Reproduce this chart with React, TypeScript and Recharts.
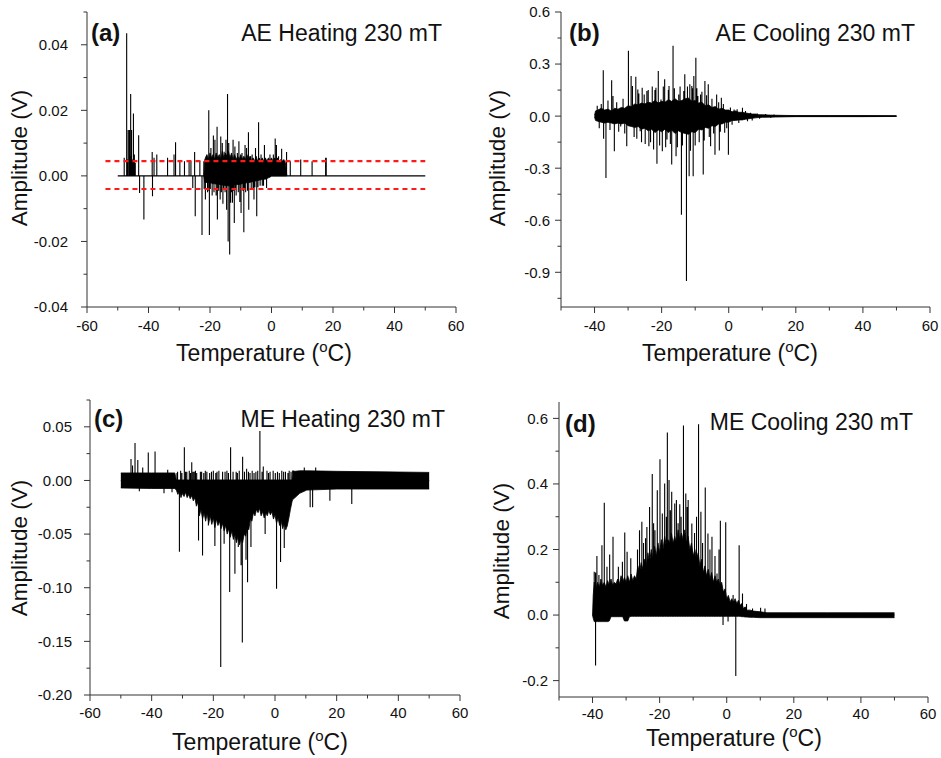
import { Area, ComposedChart, Line, XAxis, YAxis } from 'recharts'

const FONT = '"Liberation Sans", Arial, Helvetica, sans-serif'
const AXIS = '#333'

// ---- axis ticks ----
const xTicksWide = [-60, -50, -40, -30, -20, -10, 0, 10, 20, 30, 40, 50, 60]
const xMajorWide = [-60, -40, -20, 0, 20, 40, 60]
const xTicksNarrow = [-50, -40, -30, -20, -10, 0, 10, 20, 30, 40, 50, 60]
const xMajorNarrow = [-40, -20, 0, 20, 40, 60]

const aYTicks = [-0.04, -0.03, -0.02, -0.01, 0, 0.01, 0.02, 0.03, 0.04, 0.05]
const aYMajor = [-0.04, -0.02, 0, 0.02, 0.04]
const bYTicks = [-1.05, -0.9, -0.75, -0.6, -0.45, -0.3, -0.15, 0, 0.15, 0.3, 0.45, 0.6]
const bYMajor = [-0.9, -0.6, -0.3, 0, 0.3, 0.6]
const cYTicks = [-0.2, -0.175, -0.15, -0.125, -0.1, -0.075, -0.05, -0.025, 0, 0.025, 0.05, 0.075]
const cYMajor = [-0.2, -0.15, -0.1, -0.05, 0, 0.05]
const dYTicks = [-0.2, -0.1, 0, 0.1, 0.2, 0.3, 0.4, 0.5, 0.6]
const dYMajor = [-0.2, 0, 0.2, 0.4, 0.6]

// ---- (a) AE heating ----
// [temperature, amplitude] for single bursts
const aSpikes: [number, number][] = [
  [-47.9, 0.0055], [-47.1, 0.0435], [-46.8, 0.005], [-46.6, 0.014], [-46.2, 0.014],
  [-46.0, 0.006], [-45.8, 0.025], [-45.5, 0.014], [-45.2, 0.005], [-44.9, 0.019],
  [-44.6, 0.0065], [-44.3, 0.004], [-43.2, 0.0124], [-42.9, -0.0052], [-41.5, -0.0133],
  [-38.8, 0.0073], [-38.7, -0.0062], [-38.2, 0.0055], [-37.3, 0.0065], [-33.8, 0.0055],
  [-31.7, 0.0065], [-31.2, 0.0103], [-29.8, 0.0045], [-28.3, 0.0045], [-26.8, 0.0045],
  [-26.2, 0.0045], [-25.6, -0.0037], [-25.0, 0.0073], [-24.8, -0.0123], [-23.3, 0.0045],
  [-22.6, -0.018], [-22.0, 0.0045], [-21.9, -0.004], [-21.5, -0.0072], [-21.2, 0.006],
  [-20.8, -0.005], [-20.6, -0.0045], [-20.4, 0.02], [-20.2, -0.018], [-19.9, -0.004],
  [-19.7, 0.0085], [-19.3, -0.006], [-18.9, 0.0123], [-18.7, -0.005], [-18.4, 0.011],
  [-18.0, -0.006], [-17.7, 0.015], [-17.6, -0.0133], [-17.2, -0.0045], [-16.7, -0.0072],
  [-16.5, 0.012], [-16.3, -0.005], [-16.0, 0.01], [-15.8, -0.0085], [-15.6, -0.004],
  [-15.4, 0.0074], [-15.1, -0.005], [-14.8, 0.011], [-14.6, -0.0103], [-14.3, 0.025],
  [-14.1, -0.02], [-13.9, 0.01], [-13.6, -0.024], [-13.3, -0.0082], [-13.0, -0.005],
  [-12.7, -0.0082], [-12.5, 0.011], [-12.4, -0.0045], [-12.1, -0.0144], [-11.9, 0.009],
  [-11.7, -0.004], [-11.5, -0.006], [-11.1, 0.007], [-10.8, -0.005], [-10.6, 0.0106],
  [-10.3, -0.008], [-9.9, -0.0113], [-9.6, 0.007], [-9.3, -0.0045], [-9.0, -0.0172],
  [-8.8, -0.004], [-8.6, 0.0094], [-8.4, -0.005], [-8.1, 0.0085], [-7.8, -0.0045],
  [-7.5, 0.0133], [-7.4, -0.0103], [-6.8, 0.006], [-6.6, -0.004], [-6.3, 0.0065],
  [-6.0, -0.004], [-5.7, -0.0072], [-5.4, -0.0035], [-5.2, 0.0085], [-4.8, -0.0123],
  [-4.4, -0.0035], [-4.2, 0.0164], [-3.7, -0.003], [-3.4, 0.0065], [-3.0, -0.003],
  [-2.6, -0.003], [-2.3, 0.0094], [-1.6, -0.0037], [-0.5, 0.0065], [0.6, 0.0065],
  [1.2, 0.0114], [1.6, 0.0094], [2.3, 0.006], [3.3, 0.0083], [3.8, 0.0045],
  [4.3, 0.0045], [4.9, 0.0073], [6.1, 0.0045], [9.5, 0.005], [13.2, 0.0045],
  [17.6, 0.0055], [17.8, 0.0055],
]
// [temperature, low, high] of the dense burst region
const aBand: [number, number, number][] = [
  [-22, 0, 0], [-21.7, -0.002, 0.005], [-21, -0.002, 0.0065], [-20.5, -0.002, 0.005],
  [-20, -0.0022, 0.007], [-19.5, -0.0022, 0.0055], [-19, -0.0024, 0.0065], [-18.5, -0.0024, 0.005],
  [-18, -0.0025, 0.007], [-17.5, -0.0025, 0.0055], [-17, -0.0026, 0.0065], [-16.5, -0.0026, 0.005],
  [-16, -0.0028, 0.0075], [-15.5, -0.0028, 0.0055], [-15, -0.003, 0.007], [-14.5, -0.003, 0.006],
  [-14, -0.003, 0.0075], [-13.5, -0.003, 0.0055], [-13, -0.0028, 0.007], [-12.5, -0.0028, 0.005],
  [-12, -0.0027, 0.0065], [-11.5, -0.0027, 0.005], [-11, -0.0026, 0.006], [-10.5, -0.0026, 0.005],
  [-10, -0.0025, 0.0065], [-9.5, -0.0024, 0.005], [-9, -0.0023, 0.006], [-8.5, -0.0022, 0.005],
  [-8, -0.0021, 0.0065], [-7.5, -0.002, 0.005], [-7, -0.002, 0.006], [-6.5, -0.0018, 0.0045],
  [-6, -0.0018, 0.0055], [-5.5, -0.0016, 0.0045], [-5, -0.0015, 0.006], [-4.5, -0.0014, 0.0045],
  [-4, -0.0013, 0.0055], [-3.5, -0.0012, 0.0045], [-3, -0.0011, 0.0055], [-2.5, -0.001, 0.0045],
  [-2, -0.001, 0.0055], [-1.5, -0.0008, 0.0045], [-1, -0.0006, 0.0055], [-0.5, -0.0004, 0.0045],
  [0, 0, 0.0055], [0.5, 0, 0.0045], [1, 0, 0.0055], [1.5, 0, 0.005], [2, 0, 0.0055],
  [2.5, 0, 0.0045], [3, 0, 0.005], [3.5, 0, 0.0045], [4, 0, 0.005], [4.5, 0, 0.004], [5, 0, 0],
]
const aSpan = [-50, 50]
const aThresholds = [0.0045, -0.004]
const aThresholdSpan = [-54, 50]

// ---- (b) AE cooling ----
const bSpikes: [number, number][] = [
  [-39.2, 0.06], [-38.6, -0.07], [-38.0, 0.07], [-37.4, 0.264], [-37.3, -0.131],
  [-36.6, -0.356], [-36.0, 0.09], [-35.4, -0.08], [-34.9, 0.206], [-34.5, 0.116],
  [-34.1, -0.202], [-33.4, 0.08], [-32.8, -0.09], [-32.2, -0.06], [-31.5, 0.1],
  [-31.0, -0.1], [-30.4, -0.173], [-29.9, 0.376], [-29.1, 0.231], [-28.7, 0.173],
  [-28.2, -0.12], [-27.7, 0.227], [-27.4, -0.13], [-27.1, 0.154], [-26.8, 0.13],
  [-26.4, -0.087], [-26.0, -0.15], [-25.8, 0.164], [-25.2, 0.125], [-24.9, -0.16],
  [-24.4, 0.145], [-24.0, 0.15], [-23.8, -0.173], [-23.3, -0.15], [-22.8, 0.17],
  [-22.4, -0.193], [-22.0, 0.15], [-21.7, 0.164], [-21.4, -0.274], [-21.0, 0.26],
  [-20.6, -0.17], [-20.2, 0.096], [-19.8, -0.202], [-19.5, 0.17], [-19.1, 0.212],
  [-18.8, -0.18], [-18.4, -0.135], [-18.0, 0.15], [-17.8, 0.173], [-17.4, -0.16],
  [-17.0, -0.279], [-16.6, 0.405], [-16.2, 0.16], [-15.7, -0.231], [-15.3, -0.18],
  [-14.9, 0.125], [-14.5, 0.17], [-14.1, -0.568], [-13.8, -0.17], [-13.4, 0.145],
  [-13.1, 0.241], [-12.6, -0.95], [-12.3, 0.17], [-11.8, -0.347], [-11.6, 0.183],
  [-11.4, -0.2], [-11.0, 0.173], [-10.8, 0.16], [-10.6, -0.347], [-10.4, 0.231],
  [-10.0, -0.17], [-9.8, 0.337], [-9.5, 0.16], [-9.2, 0.116], [-8.8, -0.15],
  [-8.4, 0.125], [-8.0, 0.14], [-7.6, -0.337], [-7.3, -0.14], [-7.1, 0.202],
  [-6.6, 0.12], [-6.1, 0.183], [-5.8, -0.12], [-5.4, -0.173], [-5.0, 0.1],
  [-4.5, -0.1], [-4.1, -0.222], [-3.6, 0.125], [-3.0, 0.08], [-2.8, -0.198],
  [-2.5, -0.09], [-2.2, 0.106], [-1.6, 0.07], [-1.2, -0.096], [-0.6, -0.07],
  [-0.1, -0.222], [0.5, 0.05], [1.0, -0.05], [1.6, 0.038], [2.5, 0.04],
  [3.0, -0.04], [4.1, 0.048], [5.0, 0.03], [5.6, -0.03], [6.5, 0.02],
  [7.0, -0.025], [8.5, 0.015], [9.2, -0.015], [11.0, 0.012], [12.5, -0.01],
  [13.5, 0.01],
]
const bBand: [number, number, number][] = [
  [-40, -0.005, 0.005], [-39.7, -0.025, 0.03], [-39, -0.03, 0.035], [-38, -0.035, 0.045],
  [-37, -0.04, 0.035], [-36, -0.035, 0.04], [-35, -0.04, 0.03], [-34, -0.045, 0.045],
  [-33, -0.04, 0.04], [-32, -0.045, 0.05], [-31, -0.04, 0.045], [-30, -0.055, 0.06],
  [-29, -0.06, 0.055], [-28, -0.065, 0.07], [-27, -0.06, 0.065], [-26, -0.075, 0.075],
  [-25, -0.07, 0.07], [-24, -0.085, 0.08], [-23, -0.075, 0.075], [-22, -0.095, 0.09],
  [-21, -0.08, 0.075], [-20, -0.09, 0.085], [-19, -0.075, 0.08], [-18, -0.095, 0.095],
  [-17, -0.08, 0.085], [-16, -0.1, 0.1], [-15, -0.085, 0.085], [-14, -0.095, 0.09],
  [-13, -0.1, 0.1], [-12, -0.105, 0.105], [-11, -0.09, 0.085], [-10, -0.095, 0.09],
  [-9, -0.075, 0.075], [-8, -0.08, 0.08], [-7, -0.065, 0.06], [-6, -0.07, 0.065],
  [-5, -0.055, 0.05], [-4, -0.06, 0.055], [-3, -0.045, 0.04], [-2, -0.045, 0.045],
  [-1, -0.035, 0.035], [0, -0.035, 0.035], [1, -0.025, 0.025], [2, -0.025, 0.03],
  [3, -0.022, 0.022], [4, -0.022, 0.022], [5, -0.018, 0.018], [6, -0.015, 0.015],
  [7, -0.012, 0.012], [8, -0.01, 0.012], [9, -0.008, 0.008], [10, -0.007, 0.008],
  [12, -0.006, 0.006], [14, -0.005, 0.005], [17, -0.004, 0.004], [20, -0.003, 0.003],
  [30, -0.003, 0.003], [40, -0.003, 0.003], [50, -0.002, 0.002],
]
const bSpan = [-40, 50]

// ---- (c) ME heating ----
const cSpikes: [number, number][] = [
  [-46.7, 0.02], [-46.2, 0.014], [-45.4, 0.035], [-44.5, 0.019], [-44.0, -0.01],
  [-42.9, 0.012], [-41.1, 0.026], [-38.9, 0.027], [-36.0, -0.012], [-34.8, 0.01],
  [-33.4, -0.011], [-31.8, 0.007], [-31.6, 0.008], [-31.0, -0.0665], [-30.6, 0.009],
  [-30.2, 0.007], [-29.4, 0.031], [-29.0, 0.008], [-28.6, 0.008], [-27.8, 0.009],
  [-27.4, 0.007], [-27.0, 0.017], [-26.6, 0.008], [-26.2, 0.008], [-25.8, 0.009],
  [-25.4, 0.007], [-24.8, -0.056], [-24.2, 0.008], [-23.8, 0.008], [-23.5, -0.07],
  [-23.1, 0.007], [-22.6, 0.009], [-22.1, 0.008], [-21.6, -0.042], [-21.2, 0.007],
  [-20.6, 0.008], [-20.0, 0.009], [-19.5, -0.061], [-19.2, 0.007], [-18.8, 0.008],
  [-18.2, 0.009], [-17.6, -0.174], [-17.0, 0.008], [-16.5, -0.059], [-16.2, 0.008],
  [-15.6, 0.009], [-15.1, 0.007], [-14.7, -0.104], [-14.4, 0.031], [-13.6, 0.008],
  [-13.0, -0.087], [-12.6, 0.008], [-12.2, 0.007], [-11.9, -0.062], [-11.6, 0.009],
  [-11.0, -0.079], [-10.6, -0.151], [-10.5, 0.022], [-9.9, 0.008], [-9.4, -0.074],
  [-9.2, 0.011], [-8.9, -0.095], [-8.6, 0.008], [-8.1, 0.007], [-7.8, -0.062],
  [-7.4, 0.009], [-6.8, 0.007], [-6.2, 0.008], [-5.6, 0.009], [-4.9, 0.046],
  [-4.2, 0.008], [-3.8, 0.013], [-3.2, -0.05], [-2.6, 0.009], [-2.1, 0.007],
  [-1.6, 0.008], [-0.6, 0.009], [0.1, 0.007], [0.5, -0.101], [0.8, 0.008],
  [1.4, 0.007], [1.8, -0.076], [2.2, 0.009], [2.8, 0.008], [3.0, -0.063],
  [3.4, 0.008], [3.8, -0.043], [4.2, 0.007], [4.6, 0.009], [5.2, 0.008],
  [9.5, 0.012], [11.4, -0.025], [12.2, -0.025], [13.2, 0.012], [17.8, -0.019],
  [24.9, -0.022],
]
const cBand: [number, number, number][] = [
  [-50, -0.007, 0.007], [-40, -0.0075, 0.007], [-32.5, -0.0075, 0.007], [-32, -0.009, 0.0005],
  [-31.5, -0.013, 0.0005], [-31, -0.01, 0.0005], [-30.5, -0.016, 0.0005], [-30, -0.012, 0.0005],
  [-29.5, -0.015, 0.0005], [-29, -0.011, 0.0005], [-28.5, -0.016, 0.0005], [-28, -0.013, 0.0005],
  [-27.5, -0.017, 0.0005], [-27, -0.014, 0.0005], [-26.5, -0.019, 0.0005], [-26, -0.016, 0.0005],
  [-25.5, -0.024, 0.0005], [-25, -0.02, 0.0005], [-24.5, -0.033, 0.0005], [-24, -0.027, 0.0005],
  [-23.5, -0.036, 0.0005], [-23, -0.03, 0.0005], [-22.5, -0.038, 0.0005], [-22, -0.031, 0.0005],
  [-21.5, -0.04, 0.0005], [-21, -0.033, 0.0005], [-20.5, -0.041, 0.0005], [-20, -0.035, 0.0005],
  [-19.5, -0.044, 0.0005], [-19, -0.036, 0.0005], [-18.5, -0.042, 0.0005], [-18, -0.038, 0.0005],
  [-17.5, -0.045, 0.0005], [-17, -0.04, 0.0005], [-16.5, -0.047, 0.0005], [-16, -0.042, 0.0005],
  [-15.5, -0.05, 0.0005], [-15, -0.045, 0.0005], [-14.5, -0.053, 0.0005], [-14, -0.047, 0.0005],
  [-13.5, -0.055, 0.0005], [-13, -0.05, 0.0005], [-12.5, -0.058, 0.0005], [-12, -0.052, 0.0005],
  [-11.5, -0.06, 0.0005], [-11, -0.054, 0.0005], [-10.5, -0.058, 0.0005], [-10, -0.05, 0.0005],
  [-9.5, -0.052, 0.0005], [-9, -0.044, 0.0005], [-8.5, -0.046, 0.0005], [-8, -0.036, 0.0005],
  [-7.5, -0.038, 0.0005], [-7, -0.03, 0.0005], [-6.5, -0.033, 0.0005], [-6, -0.027, 0.0005],
  [-5.5, -0.03, 0.0005], [-5, -0.026, 0.0005], [-4.5, -0.033, 0.0005], [-4, -0.029, 0.0005],
  [-3.5, -0.035, 0.0005], [-3, -0.03, 0.0005], [-2.5, -0.033, 0.0005], [-2, -0.028, 0.0005],
  [-1.5, -0.032, 0.0005], [-1, -0.029, 0.0005], [-0.5, -0.036, 0.0005], [0, -0.032, 0.0005],
  [0.5, -0.04, 0.0005], [1, -0.035, 0.0005], [1.5, -0.042, 0.0005], [2, -0.038, 0.0005],
  [2.5, -0.045, 0.0005], [3, -0.04, 0.0005], [3.5, -0.046, 0.0005], [4, -0.042, 0.0005],
  [4.5, -0.035, 0.0005], [5, -0.027, 0.0005], [5.5, -0.02, 0.0005], [5.7, -0.018, 0.009],
  [6.5, -0.016, 0.0085], [8, -0.012, 0.009], [10.3, -0.009, 0.009], [20, -0.008, 0.0085],
  [35, -0.008, 0.008], [50, -0.008, 0.0075],
]
const cSpan = [-50, 50]

// ---- (d) ME cooling ----
const dSpikes: [number, number][] = [
  [-39.5, 0.132], [-39.1, 0.13], [-39.1, -0.154], [-38.7, 0.18], [-38.1, 0.122],
  [-37.2, 0.213], [-36.5, 0.343], [-35.7, 0.147], [-34.9, 0.185], [-33.9, 0.239],
  [-32.3, 0.147], [-31.1, 0.163], [-30.4, 0.252], [-29.7, 0.193], [-28.6, 0.173],
  [-27.5, 0.117], [-26.6, 0.2], [-26.0, 0.259], [-25.3, 0.285], [-24.8, 0.22],
  [-24.2, 0.234], [-23.8, 0.269], [-23.0, 0.33], [-22.2, 0.43], [-21.8, 0.28],
  [-21.4, 0.259], [-20.7, 0.381], [-19.9, 0.475], [-19.2, 0.31], [-18.5, 0.401],
  [-18.0, 0.3], [-17.7, 0.557], [-17.2, 0.412], [-16.8, 0.32], [-16.4, 0.376],
  [-15.5, 0.34], [-15.0, 0.351], [-14.5, 0.28], [-14.0, 0.338], [-13.6, 0.3],
  [-12.9, 0.578], [-12.2, 0.371], [-11.8, 0.33], [-11.5, 0.351], [-10.4, 0.279],
  [-9.6, 0.25], [-9.0, 0.3], [-8.4, 0.582], [-7.7, 0.315], [-7.2, 0.22],
  [-6.4, 0.389], [-5.6, 0.249], [-5.0, 0.2], [-4.4, 0.239], [-3.5, 0.18],
  [-2.9, 0.127], [-2.3, 0.2], [-1.9, 0.288], [-1.1, -0.03], [-0.3, 0.283],
  [0.4, -0.02], [1.9, 0.061], [2.7, -0.186], [3.7, 0.213], [4.7, 0.066],
  [5.9, 0.034], [7.7, 0.02], [10.1, 0.022], [11.4, 0.02],
]
const dBand: [number, number, number][] = [
  [-40, 0, 0], [-39.8, -0.01, 0.06], [-39.5, -0.02, 0.1], [-39, -0.02, 0.08],
  [-38.5, -0.02, 0.1], [-38, -0.02, 0.085], [-37.5, -0.02, 0.11], [-37, -0.02, 0.09],
  [-36.5, -0.02, 0.1], [-36, -0.02, 0.085], [-35.5, -0.02, 0.105], [-35, -0.018, 0.09],
  [-34.5, -0.005, 0.11], [-34, -0.005, 0.09], [-33.5, -0.005, 0.1], [-33, -0.005, 0.095],
  [-32.5, -0.005, 0.11], [-32, -0.005, 0.095], [-31.5, -0.005, 0.12], [-31, -0.005, 0.1],
  [-30.5, -0.018, 0.115], [-30, -0.018, 0.1], [-29.5, -0.018, 0.12], [-29, -0.005, 0.1],
  [-28.5, -0.004, 0.125], [-28, -0.004, 0.105], [-27.5, -0.004, 0.12], [-27, -0.004, 0.11],
  [-26.5, -0.004, 0.15], [-26, -0.004, 0.13], [-25.5, -0.004, 0.16], [-25, -0.004, 0.14],
  [-24.5, -0.004, 0.17], [-24, -0.004, 0.15], [-23.5, -0.004, 0.19], [-23, -0.004, 0.16],
  [-22.5, -0.004, 0.2], [-22, -0.004, 0.17], [-21.5, -0.004, 0.21], [-21, -0.004, 0.18],
  [-20.5, -0.004, 0.22], [-20, -0.004, 0.19], [-19.5, -0.004, 0.23], [-19, -0.004, 0.2],
  [-18.5, -0.004, 0.24], [-18, -0.004, 0.21], [-17.5, -0.004, 0.23], [-17, -0.004, 0.22],
  [-16.5, -0.004, 0.25], [-16, -0.004, 0.22], [-15.5, -0.004, 0.24], [-15, -0.004, 0.22],
  [-14.5, -0.004, 0.26], [-14, -0.004, 0.23], [-13.5, -0.004, 0.25], [-13, -0.004, 0.23],
  [-12.5, -0.004, 0.26], [-12, -0.004, 0.22], [-11.5, -0.004, 0.24], [-11, -0.004, 0.2],
  [-10.5, -0.004, 0.22], [-10, -0.004, 0.18], [-9.5, -0.004, 0.2], [-9, -0.004, 0.17],
  [-8.5, -0.004, 0.19], [-8, -0.004, 0.15], [-7.5, -0.004, 0.17], [-7, -0.004, 0.13],
  [-6.5, -0.004, 0.15], [-6, -0.004, 0.12], [-5.5, -0.004, 0.14], [-5, -0.004, 0.11],
  [-4.5, -0.004, 0.13], [-4, -0.004, 0.1], [-3.5, -0.004, 0.12], [-3, -0.004, 0.1],
  [-2.5, -0.004, 0.11], [-2, -0.004, 0.09], [-1.5, -0.004, 0.1], [-1, -0.004, 0.07],
  [-0.5, -0.004, 0.08], [0, -0.004, 0.05], [0.5, -0.004, 0.06], [1, -0.004, 0.04],
  [1.5, -0.004, 0.05], [2, -0.004, 0.04], [2.5, -0.004, 0.05], [3, -0.004, 0.035],
  [3.5, -0.004, 0.045], [4, -0.004, 0.03], [4.5, -0.005, 0.035], [5, -0.005, 0.02],
  [5.5, -0.006, 0.025], [6, -0.006, 0.015], [7, -0.007, 0.015], [8, -0.007, 0.012],
  [10, -0.008, 0.01], [12, -0.008, 0.007], [20, -0.008, 0.007], [30, -0.008, 0.007],
  [40, -0.008, 0.007], [50, -0.008, 0.007],
]
const dSpan = [-40, 50]

// bursts drawn as vertical strokes on a zero baseline
function spikeSeries(spikes: [number, number][], span: number[]) {
  const pts = [{ t: span[0], v: 0 }]
  ;[...spikes]
    .sort((p, q) => p[0] - q[0])
    .forEach(([t, v]) => {
      pts.push({ t, v: 0 }, { t, v }, { t, v: 0 })
    })
  pts.push({ t: span[1], v: 0 })
  return pts
}

function bandSeries(band: [number, number, number][]) {
  return band.map(([t, lo, hi]) => ({ t, r: [lo, hi] }))
}

const isMajor = (list: number[], v: number) => list.some((m) => Math.abs(m - v) < 1e-9)

interface PanelCfg {
  left: number
  top: number
  width: number
  height: number
  plot: { l: number; r: number; t: number; b: number }
  xDomain: number[]
  xTicks: number[]
  xMajor: number[]
  xLabelDy: number
  yDomain: number[]
  yTicks: number[]
  yMajor: number[]
  yDigits: number
  yGap: number
  band: [number, number, number][]
  spikes: [number, number][]
  span: number[]
  thresholds?: number[]
}

function Panel({ cfg }: { cfg: PanelCfg }) {
  const { plot } = cfg
  const xAxisH = 30
  const margin = {
    top: plot.t,
    right: cfg.width - plot.r,
    bottom: cfg.height - plot.b - xAxisH,
    left: 0,
  }
  const tickText = { fontFamily: FONT, fontSize: 15, fill: '#111' }

  const bottomTick = (p: any) => {
    const major = isMajor(cfg.xMajor, p.payload.value)
    return (
      <g>
        <line x1={p.x} x2={p.x} y1={plot.b} y2={plot.b + (major ? 6 : 3.5)} stroke={AXIS} />
        {major && (
          <text x={p.x} y={plot.b + cfg.xLabelDy} textAnchor="middle" {...tickText}>
            {p.payload.value}
          </text>
        )}
      </g>
    )
  }
  const topTick = (p: any) => {
    const major = isMajor(cfg.xMajor, p.payload.value)
    return <line x1={p.x} x2={p.x} y1={plot.t} y2={plot.t - (major ? 5 : 3)} stroke={AXIS} />
  }
  const leftTick = (p: any) => {
    const major = isMajor(cfg.yMajor, p.payload.value)
    return (
      <g>
        <line x1={plot.l} x2={plot.l - (major ? 6 : 3.5)} y1={p.y} y2={p.y} stroke={AXIS} />
        {major && (
          <text x={plot.l - cfg.yGap} y={p.y} dy="0.36em" textAnchor="end" {...tickText}>
            {Number(p.payload.value).toFixed(cfg.yDigits)}
          </text>
        )}
      </g>
    )
  }
  const rightTick = (p: any) => {
    const major = isMajor(cfg.yMajor, p.payload.value)
    return <line x1={plot.r} x2={plot.r + (major ? 5 : 3)} y1={p.y} y2={p.y} stroke={AXIS} />
  }

  return (
    <div style={{ position: 'absolute', left: cfg.left, top: cfg.top, width: cfg.width, height: cfg.height }}>
      <ComposedChart width={cfg.width} height={cfg.height} margin={margin}>
        <XAxis
          xAxisId="b"
          type="number"
          dataKey="t"
          domain={cfg.xDomain}
          ticks={cfg.xTicks}
          interval={0}
          allowDataOverflow
          height={xAxisH}
          axisLine={{ stroke: AXIS }}
          tickLine={false}
          tick={bottomTick}
        />
        <XAxis
          xAxisId="top"
          orientation="top"
          type="number"
          dataKey="t"
          domain={cfg.xDomain}
          ticks={cfg.xTicks}
          interval={0}
          allowDataOverflow
          height={0}
          axisLine={{ stroke: AXIS }}
          tickLine={false}
          tick={topTick}
        />
        <YAxis
          yAxisId="l"
          type="number"
          domain={cfg.yDomain}
          ticks={cfg.yTicks}
          interval={0}
          allowDataOverflow
          width={plot.l}
          axisLine={{ stroke: AXIS }}
          tickLine={false}
          tick={leftTick}
        />
        <YAxis
          yAxisId="r"
          orientation="right"
          type="number"
          domain={cfg.yDomain}
          ticks={cfg.yTicks}
          interval={0}
          allowDataOverflow
          width={0}
          axisLine={{ stroke: AXIS }}
          tickLine={false}
          tick={rightTick}
        />
        <Area
          xAxisId="b"
          yAxisId="l"
          data={bandSeries(cfg.band)}
          dataKey="r"
          type="linear"
          stroke="#000"
          strokeWidth={0.8}
          fill="#000"
          fillOpacity={1}
          dot={false}
          activeDot={false}
          isAnimationActive={false}
        />
        <Line
          xAxisId="b"
          yAxisId="l"
          data={spikeSeries(cfg.spikes, cfg.span)}
          dataKey="v"
          type="linear"
          stroke="#000"
          strokeWidth={1.1}
          dot={false}
          activeDot={false}
          isAnimationActive={false}
        />
        {(cfg.thresholds ?? []).map((th, i) => (
          <Line
            key={i}
            xAxisId="b"
            yAxisId="l"
            data={aThresholdSpan.map((t) => ({ t, v: th }))}
            dataKey="v"
            type="linear"
            stroke="#ff1a1a"
            strokeWidth={2.2}
            strokeDasharray="5 4"
            dot={false}
            activeDot={false}
            isAnimationActive={false}
          />
        ))}
      </ComposedChart>
    </div>
  )
}

const panels: PanelCfg[] = [
  {
    left: 0, top: 0, width: 470, height: 378,
    plot: { l: 87, r: 456, t: 12, b: 307 },
    xDomain: [-60, 60], xTicks: xTicksWide, xMajor: xMajorWide, xLabelDy: 24,
    yDomain: [-0.04, 0.05], yTicks: aYTicks, yMajor: aYMajor, yDigits: 2, yGap: 19,
    band: aBand, spikes: aSpikes, span: aSpan, thresholds: aThresholds,
  },
  {
    left: 470, top: 0, width: 471, height: 378,
    plot: { l: 91, r: 460, t: 12, b: 307 },
    xDomain: [-50, 60], xTicks: xTicksNarrow, xMajor: xMajorNarrow, xLabelDy: 24,
    yDomain: [-1.1, 0.6], yTicks: bYTicks, yMajor: bYMajor, yDigits: 1, yGap: 11,
    band: bBand, spikes: bSpikes, span: bSpan,
  },
  {
    left: 0, top: 380, width: 470, height: 378,
    plot: { l: 90, r: 460, t: 20, b: 315 },
    xDomain: [-60, 60], xTicks: xTicksWide, xMajor: xMajorWide, xLabelDy: 23,
    yDomain: [-0.2, 0.075], yTicks: cYTicks, yMajor: cYMajor, yDigits: 2, yGap: 18,
    band: cBand, spikes: cSpikes, span: cSpan,
  },
  {
    left: 470, top: 380, width: 471, height: 378,
    plot: { l: 89, r: 458, t: 22, b: 317 },
    xDomain: [-50, 60], xTicks: xTicksNarrow, xMajor: xMajorNarrow, xLabelDy: 22,
    yDomain: [-0.25, 0.65], yTicks: dYTicks, yMajor: dYMajor, yDigits: 1, yGap: 11,
    band: dBand, spikes: dSpikes, span: dSpan,
  },
]

const tags = [
  { tag: '(a)', title: 'AE Heating 230 mT', tx: 91, ty: 41, rx: 442, ry: 41 },
  { tag: '(b)', title: 'AE Cooling 230 mT', tx: 569, ty: 41, rx: 915, ry: 41 },
  { tag: '(c)', title: 'ME Heating 230 mT', tx: 94, ty: 427, rx: 445, ry: 427 },
  { tag: '(d)', title: 'ME Cooling 230 mT', tx: 565, ty: 432, rx: 913, ry: 430 },
]
const xTitles = [
  { x: 264, y: 361 },
  { x: 730, y: 361 },
  { x: 260, y: 750 },
  { x: 734, y: 746 },
]
const yTitles = [
  { x: 19, y: 158 },
  { x: 497, y: 158 },
  { x: 19, y: 548 },
  { x: 501, y: 551 },
]

export default function App() {
  return (
    <div
      style={{
        position: 'absolute',
        left: 0,
        top: 0,
        width: 941,
        height: 758,
        background: '#fff',
        overflow: 'hidden',
      }}
    >
      {panels.map((cfg, i) => (
        <Panel key={i} cfg={cfg} />
      ))}
      <svg
        width={941}
        height={758}
        style={{ position: 'absolute', left: 0, top: 0, pointerEvents: 'none' }}
        fontFamily={FONT}
        fill="#111"
      >
        {tags.map((t) => (
          <g key={t.tag}>
            <text x={t.tx} y={t.ty} fontSize={24} fontWeight="bold">
              {t.tag}
            </text>
            <text x={t.rx} y={t.ry} fontSize={23} textAnchor="end">
              {t.title}
            </text>
          </g>
        ))}
        {xTitles.map((p, i) => (
          <text key={i} x={p.x} y={p.y} fontSize={23} textAnchor="middle">
            Temperature (
            <tspan fontSize={15} dy={-9}>
              o
            </tspan>
            <tspan dy={9}>C)</tspan>
          </text>
        ))}
        {yTitles.map((p, i) => (
          <text
            key={i}
            x={p.x}
            y={p.y}
            fontSize={22.5}
            textAnchor="middle"
            dominantBaseline="central"
            transform={`rotate(-90 ${p.x} ${p.y})`}
          >
            Amplitude (V)
          </text>
        ))}
      </svg>
    </div>
  )
}
